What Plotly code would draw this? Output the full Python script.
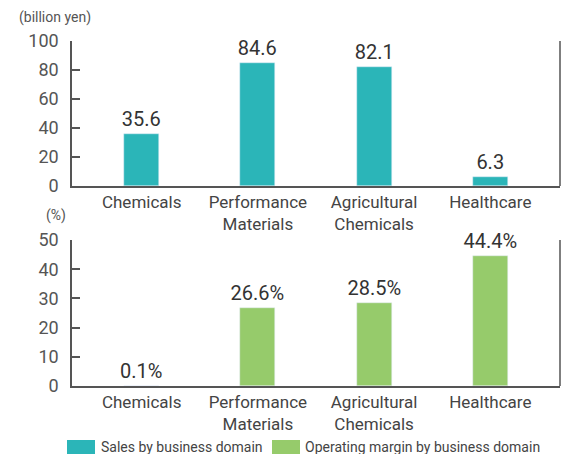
import plotly.graph_objects as go

categories = ["Chemicals", "Performance<br>Materials", "Agricultural<br>Chemicals", "Healthcare"]
sales = [35.6, 84.6, 82.1, 6.3]
margin = [0.1, 26.6, 28.5, 44.4]
sales_labels = ["35.6", "84.6", "82.1", "6.3"]
margin_labels = ["0.1%", "26.6%", "28.5%", "44.4%"]
sales_ticks = [0, 20, 40, 60, 80, 100]
margin_ticks = [0, 10, 20, 30, 40, 50]

TEAL = "#2BB5B8"
GREEN = "#96CB6B"
AXIS = "#555555"
FONT = "Roboto"

fig = go.Figure()
fig.add_trace(go.Bar(x=categories, y=sales, text=sales_labels, textposition="outside",
                     marker_color=TEAL, width=0.3, xaxis="x", yaxis="y",
                     textfont=dict(size=20, color="#333333", family=FONT),
                     constraintext="none", cliponaxis=False, showlegend=False))
fig.add_trace(go.Bar(x=categories, y=margin, text=margin_labels, textposition="outside",
                     marker_color=GREEN, width=0.3, xaxis="x2", yaxis="y2",
                     textfont=dict(size=20, color="#333333", family=FONT),
                     constraintext="none", cliponaxis=False, showlegend=False))

xd = [72/563, 560/563]
xcommon = dict(domain=xd, range=[-0.6, 3.6], showline=True, linecolor=AXIS, linewidth=1.5,
               ticks="", tickfont=dict(size=17, color="#444444", family=FONT),
               showgrid=False, zeroline=False, fixedrange=True)
ycommon = dict(showline=True, linecolor=AXIS, linewidth=1.5, ticks="inside", ticklen=8,
               tickcolor=AXIS, tickwidth=1.5, tickfont=dict(size=18, color="#555555", family=FONT),
               ticklabelstandoff=8,
               showgrid=False, zeroline=False, fixedrange=True)

fig.update_layout(
    width=563, height=454, margin=dict(l=0, r=0, t=0, b=0, autoexpand=False),
    paper_bgcolor="white", plot_bgcolor="white",
    font=dict(family=FONT),
    bargap=0,
    xaxis=dict(**xcommon, anchor="y"),
    xaxis2=dict(**xcommon, anchor="y2"),
    yaxis=dict(**ycommon, domain=[1-186/454, 1-41/454], range=[0, 100], tickvals=sales_ticks, anchor="x"),
    yaxis2=dict(**ycommon, domain=[1-386/454, 1-240/454], range=[0, 50], tickvals=margin_ticks, anchor="x2"),
    showlegend=False,
)

shapes = []
shapes.append(dict(type="line", xref="x domain", yref="y domain", x0=1, x1=1, y0=0, y1=1,
                   line=dict(color=AXIS, width=1.5)))
shapes.append(dict(type="line", xref="x2 domain", yref="y2 domain", x0=1, x1=1, y0=0, y1=1,
                   line=dict(color=AXIS, width=1.5)))
shapes.append(dict(type="rect", xref="paper", yref="paper", x0=67/563, x1=95/563,
                   y0=0, y1=1-440/454, fillcolor=TEAL, line=dict(width=0)))
shapes.append(dict(type="rect", xref="paper", yref="paper", x0=272/563, x1=300/563,
                   y0=0, y1=1-440/454, fillcolor=GREEN, line=dict(width=0)))
fig.update_layout(shapes=shapes)

annotations = [
    dict(text="(billion yen)", x=17/563, y=1-18/454, xref="paper", yref="paper",
         xanchor="left", yanchor="middle", showarrow=False,
         font=dict(size=14, color="#555555", family=FONT)),
    dict(text="(%)", x=44/563, y=1-216/454, xref="paper", yref="paper",
         xanchor="left", yanchor="middle", showarrow=False,
         font=dict(size=14, color="#555555", family=FONT)),
    dict(text="Sales by business domain", x=99/563, y=1-447/454, xref="paper", yref="paper",
         xanchor="left", yanchor="middle", showarrow=False,
         font=dict(size=14, color="#444444", family=FONT)),
    dict(text="Operating margin by business domain", x=303/563, y=1-447/454, xref="paper", yref="paper",
         xanchor="left", yanchor="middle", showarrow=False,
         font=dict(size=14, color="#444444", family=FONT)),
]
fig.update_layout(annotations=annotations)

fig.write_html("out.html", post_script="document.body.style.margin='0';")
